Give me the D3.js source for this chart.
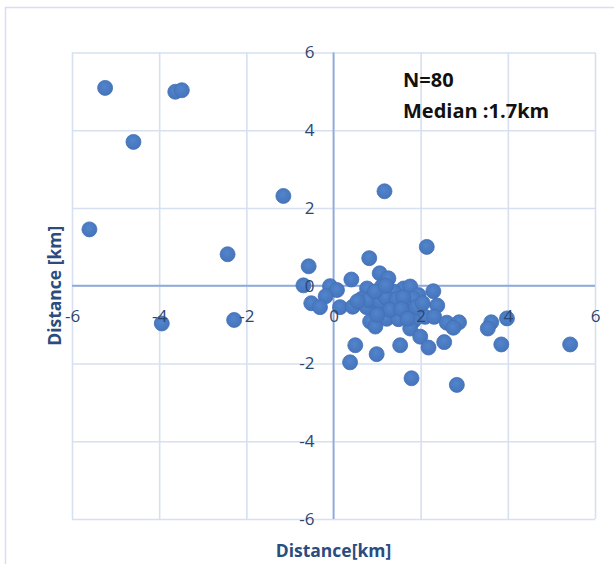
<!DOCTYPE html>
<html>
<head>
<meta charset="utf-8">
<script src="https://cdn.jsdelivr.net/npm/d3@7"></script>
<style>
  html, body { margin: 0; padding: 0; background: #fff; }
  svg { display: block; font-family: "Open Sans", "Liberation Sans", sans-serif; }
</style>
</head>
<body>
<svg id="chart" width="614" height="564"></svg>
<script>
// offsets east (km) and north (km)
var xValues = [
  -5.24, -3.63, -3.48, -4.59, -1.15, -5.60, -2.43, -0.57, -3.94, -2.28,
   1.17,  2.14,  0.82, -0.69, -0.08,  0.08,  0.41, -0.18, -0.51, -0.31,
   0.15,  0.44,  0.77,  0.64,  0.76,  1.06,  1.26,  1.11,  1.61,  1.76,
   2.29,  1.38,  1.95,  1.83,  1.11,  0.80,  1.34,  1.64,  2.38,  1.07,
   1.49,  1.76,  2.10,  2.31,  0.84,  1.22,  1.49,  1.84,  0.96,  1.76,
   1.99,  2.18,  2.54,  1.53,  0.50,  0.99,  0.38,  1.79,  2.83,  2.60,
   2.88,  2.75,  3.62,  3.54,  3.98,  3.85,  5.43,  1.07,  1.20,  1.45,
   1.60,  1.30,  0.95,  1.20,  1.55,  1.90,  0.55,  1.70,  2.05,  1.00
];
var yValues = [
   5.09,  4.99,  5.03,  3.70,  2.31,  1.45,  0.81,  0.50, -0.97, -0.88,
   2.43,  1.00,  0.71,  0.01, -0.01, -0.11,  0.16, -0.27, -0.45, -0.55,
  -0.55, -0.54, -0.07, -0.34, -0.55,  0.32,  0.19, -0.02, -0.07, -0.02,
  -0.14, -0.15, -0.24, -0.33, -0.33, -0.37, -0.48, -0.50, -0.51, -0.62,
  -0.71, -0.67, -0.80, -0.80, -0.92, -0.85, -0.86, -0.90, -1.05, -1.10,
  -1.31, -1.59, -1.45, -1.53, -1.53, -1.76, -1.97, -2.38, -2.55, -0.95,
  -0.94, -1.08, -0.94, -1.10, -0.84, -1.51, -1.51, -0.41, -0.30, -0.35,
  -0.30, -0.62, -0.15,  0.00, -0.60, -0.55, -0.40, -0.85, -0.45, -0.75
];
var tickValues = [-6, -4, -2, 0, 2, 4, 6];
var noteLines = ["N=80", "Median :1.7km"];
var xTitle = "Distance[km]";
var yTitle = "Distance [km]";

(function() {

    var points = xValues.map(function(x, i) { return {x: x, y: yValues[i]}; });

    var svg = d3.select("#chart");
    var plotLeft = 72, plotRight = 595, plotTop = 52.5, plotBottom = 519;

    var x = d3.scaleLinear().domain([-6, 6]).range([plotLeft, plotRight]);
    var y = d3.scaleLinear().domain([-6, 6]).range([plotBottom, plotTop]);

    // outer chart border (right and bottom fall outside the window)
    svg.append("rect")
        .attr("x", 5.5).attr("y", 7.5)
        .attr("width", 700).attr("height", 700)
        .attr("fill", "none")
        .attr("stroke", "#d6e0f1")
        .attr("stroke-width", 1.5);

    // gridlines
    var gridX = svg.append("g")
        .attr("transform", "translate(0," + plotBottom + ")")
        .call(d3.axisBottom(x).tickValues(tickValues).tickSize(-(plotBottom - plotTop)).tickFormat(""));
    var gridY = svg.append("g")
        .attr("transform", "translate(" + plotLeft + ",0)")
        .call(d3.axisLeft(y).tickValues(tickValues).tickSize(-(plotRight - plotLeft)).tickFormat(""));
    [gridX, gridY].forEach(function(g) {
        g.select(".domain").remove();
        g.selectAll(".tick line").attr("stroke", "#d6e0f1").attr("stroke-width", 1.6);
    });

    // zero axes
    svg.append("line")
        .attr("x1", plotLeft).attr("x2", plotRight)
        .attr("y1", y(0)).attr("y2", y(0))
        .attr("stroke", "#8fabdb").attr("stroke-width", 1.8);
    svg.append("line")
        .attr("x1", x(0)).attr("x2", x(0))
        .attr("y1", plotTop).attr("y2", plotBottom)
        .attr("stroke", "#8fabdb").attr("stroke-width", 1.8);

    // markers
    var defs = svg.append("defs");
    var grad = defs.append("radialGradient").attr("id", "dot")
        .attr("cx", "45%").attr("cy", "40%").attr("r", "60%");
    grad.append("stop").attr("offset", "0%").attr("stop-color", "#5285cc");
    grad.append("stop").attr("offset", "100%").attr("stop-color", "#4574bb");

    svg.append("g").selectAll("circle")
        .data(points)
        .enter().append("circle")
        .attr("cx", function(d) { return x(d.x); })
        .attr("cy", function(d) { return y(d.y); })
        .attr("r", 7.5)
        .attr("fill", "url(#dot)")
        .attr("stroke", "#4270b4")
        .attr("stroke-width", 0.8);

    // tick labels sit on the zero axes, drawn over the markers
    var fmt = function(d) { return d < 0 ? "-" + Math.abs(d) : String(d); };
    var yAxis = svg.append("g")
        .attr("transform", "translate(" + x(0) + ",0)")
        .call(d3.axisLeft(y).tickValues(tickValues).tickSize(0).tickPadding(19).tickFormat(fmt));
    var xAxis = svg.append("g")
        .attr("transform", "translate(0," + y(0) + ")")
        .call(d3.axisBottom(x).tickValues(tickValues).tickSize(0).tickPadding(24).tickFormat(fmt));
    [xAxis, yAxis].forEach(function(g) {
        g.select(".domain").remove();
        g.selectAll(".tick text")
            .attr("fill", "#2b4670")
            .style("font-size", "17px")
            .style("font-family", "'Open Sans', sans-serif");
    });

    // annotation
    svg.append("g").selectAll("text")
        .data(noteLines)
        .enter().append("text")
        .attr("x", 403)
        .attr("y", function(d, i) { return 87 + i * 31; })
        .attr("fill", "#111")
        .style("font-size", "20px")
        .style("font-weight", "bold")
        .text(function(d) { return d; });

    // axis titles
    svg.append("text")
        .attr("x", x(0)).attr("y", 557)
        .attr("text-anchor", "middle")
        .attr("fill", "#2b4c7e")
        .style("font-size", "17.5px")
        .style("font-weight", "bold")
        .text(xTitle);

    svg.append("text")
        .attr("transform", "translate(61," + y(0) + ") rotate(-90)")
        .attr("text-anchor", "middle")
        .attr("fill", "#2b4c7e")
        .style("font-size", "17.5px")
        .style("font-weight", "bold")
        .text(yTitle);

}());
</script>
</body>
</html>
